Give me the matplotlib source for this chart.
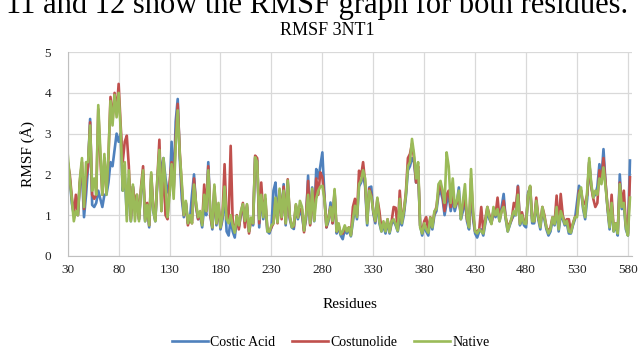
import numpy as np
import matplotlib
matplotlib.use("Agg")
import matplotlib.pyplot as plt

plt.rcParams['font.family'] = ['Liberation Serif', 'DejaVu Serif']

# RMSF values every 2nd residue, 30..582
costic_acid = [
    # 30-136
    2.3, 1.9, 1.3, 1.0, 1.05, 1.0, 1.8, 2.0, 0.95, 1.5, 2.2, 3.36, 1.25, 1.2, 1.3, 1.6, 1.4, 1.2, 1.5, 1.5,
    1.8, 2.3, 2.2, 2.6, 3.0, 2.8, 3.0, 1.6, 2.0, 1.0, 1.9, 0.85, 1.7, 1.2, 1.4, 0.9, 1.6, 2.0, 0.85, 1.2,
    0.7, 1.9, 1.1, 0.85, 1.8, 2.5, 2.0, 2.4, 1.9, 1.6, 1.5, 2.8, 1.6, 3.3,
    # 138-250
    3.85, 2.4, 1.4, 0.95, 1.3, 0.8, 0.9, 1.5, 2.0, 1.2, 0.9, 1.0, 0.7, 1.2, 1.0, 2.3, 1.0, 0.65, 1.6, 0.75,
    1.2, 0.65, 0.9, 1.6, 0.6, 0.5, 0.9, 0.6, 0.45, 0.9, 0.7, 1.0, 1.2, 0.8, 1.2, 0.6, 0.9, 0.75, 2.4, 2.35,
    0.7, 1.5, 0.9, 1.3, 0.6, 0.55, 0.7, 1.6, 1.8, 0.9, 1.6, 0.95, 1.76, 0.75, 1.8, 0.9, 0.7,
    # 252-360
    0.66, 1.2, 0.9, 1.1, 1.0, 0.62, 0.9, 1.97, 0.78, 1.68, 0.85, 2.13, 1.9, 2.2, 2.54, 1.5, 0.7, 0.85, 1.31, 0.8,
    1.55, 0.55, 0.7, 0.5, 0.41, 0.65, 0.55, 0.65, 0.48, 0.85, 1.2, 0.9, 1.7, 1.8, 2.0, 1.7, 0.75, 1.68, 1.7, 1.05,
    0.8, 1.35, 0.8, 0.6, 0.75, 0.55, 0.85, 0.55, 0.8, 0.85, 0.75, 0.6, 0.9, 0.75, 1.0,
    # 362-470
    1.45, 2.1, 2.2, 2.4, 2.3, 1.8, 2.1, 0.75, 0.5, 0.75, 0.6, 0.5, 0.9, 0.65, 1.0, 1.1, 1.5, 1.6, 1.4, 1.0,
    1.3, 1.5, 1.1, 1.4, 1.1, 1.3, 1.68, 0.9, 1.1, 1.4, 0.85, 0.65, 1.6, 0.9, 0.55, 0.45, 0.6, 0.65, 0.5, 0.8,
    1.1, 0.9, 0.8, 1.1, 0.95, 1.1, 0.85, 1.2, 1.52, 0.9, 0.6, 0.75, 0.9, 1.0, 1.0,
    # 472-582
    1.72, 0.75, 0.95, 0.75, 0.7, 1.56, 1.65, 0.8, 0.8, 1.3, 0.9, 0.65, 1.15, 0.9, 0.65, 0.5, 0.6, 0.9, 0.75, 1.1,
    0.6, 1.0, 0.9, 0.75, 0.8, 0.55, 0.55, 0.75, 0.9, 1.3, 1.72, 1.6, 1.15, 0.9, 1.4, 2.3, 1.7, 1.45, 1.5, 1.7,
    2.25, 1.9, 2.62, 1.8, 1.15, 0.65, 1.25, 0.6, 0.75, 0.5, 2.0, 1.15, 1.25, 0.65, 0.5, 2.34,
]

costunolide = [
    2.3, 2.0, 1.45, 1.0, 1.5, 1.0, 1.85, 2.3, 1.15, 1.9, 2.2, 3.28, 1.5, 1.4, 1.5, 3.6, 2.4, 1.5, 2.4, 1.6,
    2.4, 3.9, 3.3, 4.0, 3.5, 4.22, 3.2, 2.3, 2.8, 2.95, 2.2, 0.9, 1.7, 1.3, 1.5, 0.9, 1.7, 2.2, 0.9, 1.3,
    0.75, 2.0, 1.2, 0.9, 1.9, 2.85, 1.1, 2.3, 1.0, 0.9, 1.8, 2.3, 1.6, 2.9,
    3.73, 2.55, 1.7, 1.0, 1.3, 0.75, 0.95, 0.8, 1.9, 1.25, 0.9, 1.05, 0.8, 1.75, 1.1, 2.2, 1.0, 0.7, 1.7, 0.8,
    1.25, 0.7, 1.0, 2.25, 0.9, 0.9, 2.7, 0.8, 0.6, 1.0, 0.65, 1.05, 1.3, 0.7, 1.25, 0.55, 0.9, 0.8, 2.46, 2.4,
    0.8, 1.8, 1.0, 1.4, 0.65, 0.6, 0.7, 0.8, 1.4, 0.8, 1.6, 0.9, 1.7, 0.8, 1.88, 0.95, 0.75,
    0.72, 1.25, 0.95, 1.15, 1.15, 0.58, 1.0, 1.84, 0.75, 1.6, 0.9, 1.9, 1.5, 2.05, 1.93, 1.45, 0.7, 0.95, 1.2, 0.8,
    1.6, 0.6, 0.75, 0.55, 0.55, 0.7, 0.62, 0.7, 0.52, 1.2, 1.4, 1.0, 2.09, 1.95, 2.3, 1.8, 0.85, 1.65, 1.5, 1.1,
    0.85, 1.4, 1.1, 0.65, 0.8, 0.65, 0.9, 0.6, 0.85, 1.2, 1.18, 0.65, 1.6, 0.85, 1.1,
    1.55, 2.4, 2.5, 2.75, 2.4, 1.8, 2.2, 0.75, 0.6, 0.85, 0.95, 0.6, 0.95, 0.75, 1.05, 1.2, 1.6, 1.75, 1.5, 1.1,
    1.5, 1.6, 1.2, 1.5, 1.2, 1.3, 1.4, 1.0, 1.2, 1.5, 0.9, 0.75, 1.9, 1.0, 0.6, 0.6, 0.65, 1.2, 0.6, 0.9,
    1.2, 1.0, 0.8, 1.1, 1.0, 1.43, 0.9, 1.1, 1.35, 0.95, 0.7, 0.8, 0.9, 1.3, 1.2,
    1.7, 0.8, 1.07, 0.85, 0.8, 1.5, 1.7, 0.9, 0.85, 1.43, 0.95, 0.75, 1.2, 1.0, 0.7, 0.6, 0.7, 0.95, 0.8, 1.48,
    0.7, 1.52, 1.0, 0.8, 0.9, 0.9, 0.6, 0.8, 0.95, 1.0, 1.6, 1.6, 1.25, 1.31, 1.5, 2.3, 1.7, 1.4, 1.2, 1.3,
    2.1, 1.8, 2.4, 1.8, 1.2, 0.75, 1.5, 0.65, 0.8, 0.6, 1.8, 1.3, 1.6, 0.75, 0.55, 1.93,
]

native = [
    2.5, 1.9, 1.4, 0.85, 1.1, 1.0, 1.9, 2.4, 1.2, 2.3, 2.3, 3.2, 1.6, 1.9, 1.5, 3.7, 2.6, 1.5, 2.5, 1.5,
    2.5, 3.8, 3.2, 3.95, 3.4, 4.0, 3.1, 1.6, 2.3, 0.85, 2.1, 0.85, 1.75, 0.85, 1.5, 0.85, 1.65, 2.1, 0.85, 1.25,
    0.75, 2.05, 1.1, 0.85, 1.9, 2.6, 1.1, 2.4, 1.75, 0.95, 1.5, 2.25, 1.4, 2.7,
    3.57, 2.5, 1.8, 1.0, 1.35, 0.8, 1.0, 0.8, 1.75, 1.3, 0.95, 1.1, 0.75, 1.5, 1.1, 2.1, 1.1, 0.7, 1.75, 0.8,
    1.3, 0.7, 1.0, 1.7, 0.9, 0.8, 1.0, 0.75, 0.57, 0.98, 0.75, 1.1, 1.27, 0.86, 1.27, 0.6, 0.94, 0.8, 2.42, 2.3,
    0.9, 1.5, 0.95, 1.5, 0.6, 0.6, 0.75, 0.8, 1.43, 0.82, 1.65, 0.95, 1.6, 0.8, 1.85, 1.0, 0.7,
    0.75, 1.27, 0.94, 1.35, 1.2, 0.62, 1.0, 1.5, 0.8, 1.65, 0.86, 1.4, 1.6, 1.7, 1.72, 1.4, 0.75, 0.9, 1.2, 0.86,
    1.64, 0.6, 0.8, 0.53, 0.6, 0.75, 0.6, 0.7, 0.5, 0.9, 1.23, 0.95, 1.76, 1.85, 2.1, 1.9, 0.8, 1.6, 1.45, 1.1,
    0.86, 1.43, 0.85, 0.6, 0.85, 0.6, 0.9, 0.58, 0.85, 0.9, 0.78, 0.62, 1.4, 0.8, 1.1,
    1.5, 2.2, 2.3, 2.87, 2.5, 1.9, 2.3, 0.7, 0.55, 0.8, 0.65, 0.57, 0.94, 0.7, 1.1, 1.15, 1.76, 1.84, 1.6, 1.3,
    2.54, 2.2, 1.3, 1.9, 1.2, 1.35, 1.6, 0.9, 1.35, 1.76, 0.95, 0.7, 2.13, 1.1, 0.6, 0.55, 0.65, 0.6, 0.55, 0.85,
    1.2, 0.95, 0.78, 1.2, 1.0, 1.15, 0.85, 1.1, 1.2, 0.95, 0.6, 0.78, 0.95, 1.1, 1.0,
    1.5, 0.78, 1.0, 0.8, 0.78, 1.5, 1.72, 0.85, 0.85, 1.35, 0.95, 0.7, 1.2, 0.95, 0.7, 0.55, 0.65, 0.95, 0.78, 1.2,
    0.65, 1.1, 0.95, 0.78, 0.86, 0.6, 0.57, 0.78, 0.95, 0.95, 1.5, 1.68, 1.2, 0.95, 1.6, 2.4, 1.76, 1.43, 1.6, 1.5,
    1.9, 1.76, 2.17, 1.7, 1.2, 0.7, 1.3, 0.6, 0.8, 0.55, 1.76, 1.2, 1.3, 0.7, 0.5, 1.43,
]

residues = np.arange(30, 30 + 2 * len(native), 2)
xtick_labels = list(range(30, 581, 50))

fig = plt.figure(figsize=(6.4, 3.52), dpi=100)
ax = fig.add_axes([0.1058, 0.273, 0.8817, 0.579])

ax.plot(residues, costic_acid, color='#4F81BD', lw=1.9, label='Costic Acid')
ax.plot(residues, costunolide, color='#C0504D', lw=1.9, label='Costunolide')
ax.plot(residues, native, color='#9BBB59', lw=1.9, label='Native')

ax.set_xlim(30, 584)
ax.set_ylim(0, 5)
ax.set_xticks(xtick_labels)
ax.set_yticks(range(0, 6))
ax.grid(True, color='#D9D9D9', lw=0.9)
ax.set_axisbelow(True)
for s in ['top', 'right']:
    ax.spines[s].set_visible(False)
for s in ['left', 'bottom']:
    ax.spines[s].set_color('#BFBFBF')
ax.tick_params(length=0, labelsize=9.5, colors='#222222')
ax.tick_params(axis='x', pad=6)
ax.tick_params(axis='y', pad=12)

ax.set_xlabel('Residues', fontsize=11, labelpad=16)
ax.set_ylabel('RMSF (Å)', fontsize=11, labelpad=7)
fig.text(0.511, 0.913, 'RMSF 3NT1', ha='center', va='center', fontsize=13)

# cut-off caption from the page above the chart
fig.text(0.982, 0.963, '11 and 12 show the RMSF graph for both residues.',
         ha='right', va='baseline', fontsize=22)

fig.legend(loc='center', bbox_to_anchor=(0.517, 0.026), ncol=3, frameon=False,
           fontsize=10, handlelength=2.6, handletextpad=0.15, columnspacing=1.2)

fig.savefig('out.png', dpi=100)
